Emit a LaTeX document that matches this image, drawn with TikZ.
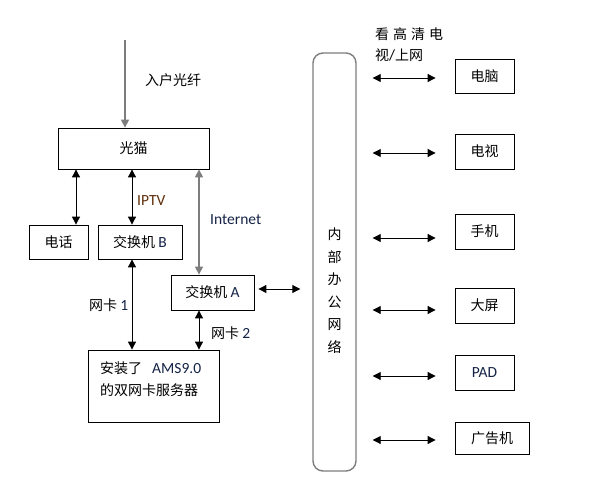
\documentclass[tikz,border=0pt]{standalone}
\usepackage{fontspec}
\setmainfont{Carlito}
\newfontfamily\cjk{Noto Sans CJK SC}
\usetikzlibrary{arrows.meta}
\definecolor{lgray}{RGB}{125,125,125}
\definecolor{iptvc}{RGB}{95,45,10}
\definecolor{latc}{RGB}{20,35,70}
\tikzset{
  box/.style={draw=black, line width=0.8pt, inner sep=0pt, font=\cjk\fontsize{14}{16}\selectfont},
  dbl/.style={{Triangle[length=8pt,width=8pt]}-{Triangle[length=8pt,width=8pt]}, line width=0.9pt, black},
  dblg/.style={{Triangle[length=8pt,width=8pt]}-{Triangle[length=8pt,width=8pt]}, line width=1.4pt, lgray},
  lbl/.style={font=\cjk\fontsize{14}{16}\selectfont, inner sep=0pt},
  lat/.style={font=\fontsize{15.5}{16}\selectfont, inner sep=0pt, text=latc}
}
\newcommand{\latn}[1]{{\fontspec{Carlito}\fontsize{15.5}{16}\selectfont\color{latc}#1}}
\begin{document}
\begin{tikzpicture}[x=1pt,y=-1pt]
\useasboundingbox (0,0) rectangle (594,495);
% boxes
\node[box, minimum width=151pt, minimum height=41pt] (gm) at (133.5,148.5) {光猫};
\node[box, minimum width=59pt, minimum height=34pt] (dh) at (58.5,242) {电话};
\node[box, minimum width=84pt, minimum height=34pt] (swb) at (140,242) {交换机 \latn{B}};
\node[box, minimum width=83pt, minimum height=35pt] (swa) at (212.5,292.5) {交换机 \latn{A}};
\node[box, minimum width=131pt, minimum height=72pt] (srv) at (153.5,386) {};
\node[lbl, anchor=west] (srv1) at (100,368) {安装了\hspace{10pt}\latn{AMS9.0}};
\node[lbl, anchor=west] (srv2) at (100,390) {的双网卡服务器};
\node[draw=lgray, line width=1.4pt, rounded corners=10pt, minimum width=43pt, minimum height=418pt, inner sep=0pt] (net) at (334.5,262) {};
\node[lbl, align=center, font=\cjk\fontsize{14}{22.5}\selectfont, anchor=north] (nettxt) at (334.5,228) {内\\部\\办\\公\\网\\络};
\node[box, minimum width=59pt, minimum height=34pt] (pc) at (484.5,76) {电脑\hspace{4pt}};
\node[box, minimum width=59pt, minimum height=35pt] (tv) at (484.5,151.5) {电视\hspace{4pt}};
\node[box, minimum width=59pt, minimum height=35pt] (ph) at (484.5,231.5) {手机\hspace{4pt}};
\node[box, minimum width=59pt, minimum height=35pt] (ds) at (484.5,305.5) {大屏\hspace{4pt}};
\node[box, minimum width=59pt, minimum height=35pt, font=\fontsize{15.5}{16}\selectfont, text=latc] (pad) at (484.5,372.5) {PAD\hspace{8pt}};
\node[box, minimum width=74pt, minimum height=32pt] (ad) at (492,438) {广告机};
% labels
\node[lbl, anchor=west] (rgx) at (145,80) {入户光纤};
\node[lat, anchor=west, text=iptvc] (iptv) at (137,201) {IPTV};
\node[lat, anchor=west] (inet) at (210,220) {Internet};
\node[lbl, anchor=west] (wk1) at (89,305) {网卡 \latn{1}};
\node[lbl, anchor=west] (wk2) at (211,333) {网卡 \latn{2}};
\node[lbl, anchor=west] (kg1) at (375,34) {看\hspace{4pt}高\hspace{4pt}清\hspace{4pt}电};
\node[lbl, anchor=west] (kg2) at (375,55) {视{\fontspec{Carlito}\fontsize{15.5}{16}\selectfont/}上网};
% connectors
\coordinate (top) at (125,40);
\draw[-{Triangle[length=8pt,width=8pt]}, line width=1.4pt, lgray] (top) -- (gm.north -| top);
\draw[dbl] (gm.south -| 76,0) -- (dh.north -| 76,0);
\draw[dbl] (gm.south -| 132,0) -- (swb.north -| 132,0);
\draw[dblg] (gm.south -| 199,0) -- (swa.north -| 199,0);
\draw[dbl] (swb.south -| 132,0) -- (srv.north -| 132,0);
\draw[dbl] (swa.south -| 199,0) -- (srv.north -| 199,0);
\draw[dbl, shorten <=4pt, shorten >=12pt] (swa.east |- 0,289) -- (net.west |- 0,289);
\draw[dbl, shorten <=16pt, shorten >=19pt] (net.east |- 0,78) -- (pc.west |- 0,78);
\draw[dbl, shorten <=16pt, shorten >=19pt] (net.east |- 0,153) -- (tv.west |- 0,153);
\draw[dbl, shorten <=16pt, shorten >=19pt] (net.east |- 0,238) -- (ph.west |- 0,238);
\draw[dbl, shorten <=16pt, shorten >=19pt] (net.east |- 0,310) -- (ds.west |- 0,310);
\draw[dbl, shorten <=16pt, shorten >=19pt] (net.east |- 0,376) -- (pad.west |- 0,376);
\draw[dbl, shorten <=16pt, shorten >=19pt] (net.east |- 0,440) -- (ad.west |- 0,440);
\end{tikzpicture}
\end{document}
